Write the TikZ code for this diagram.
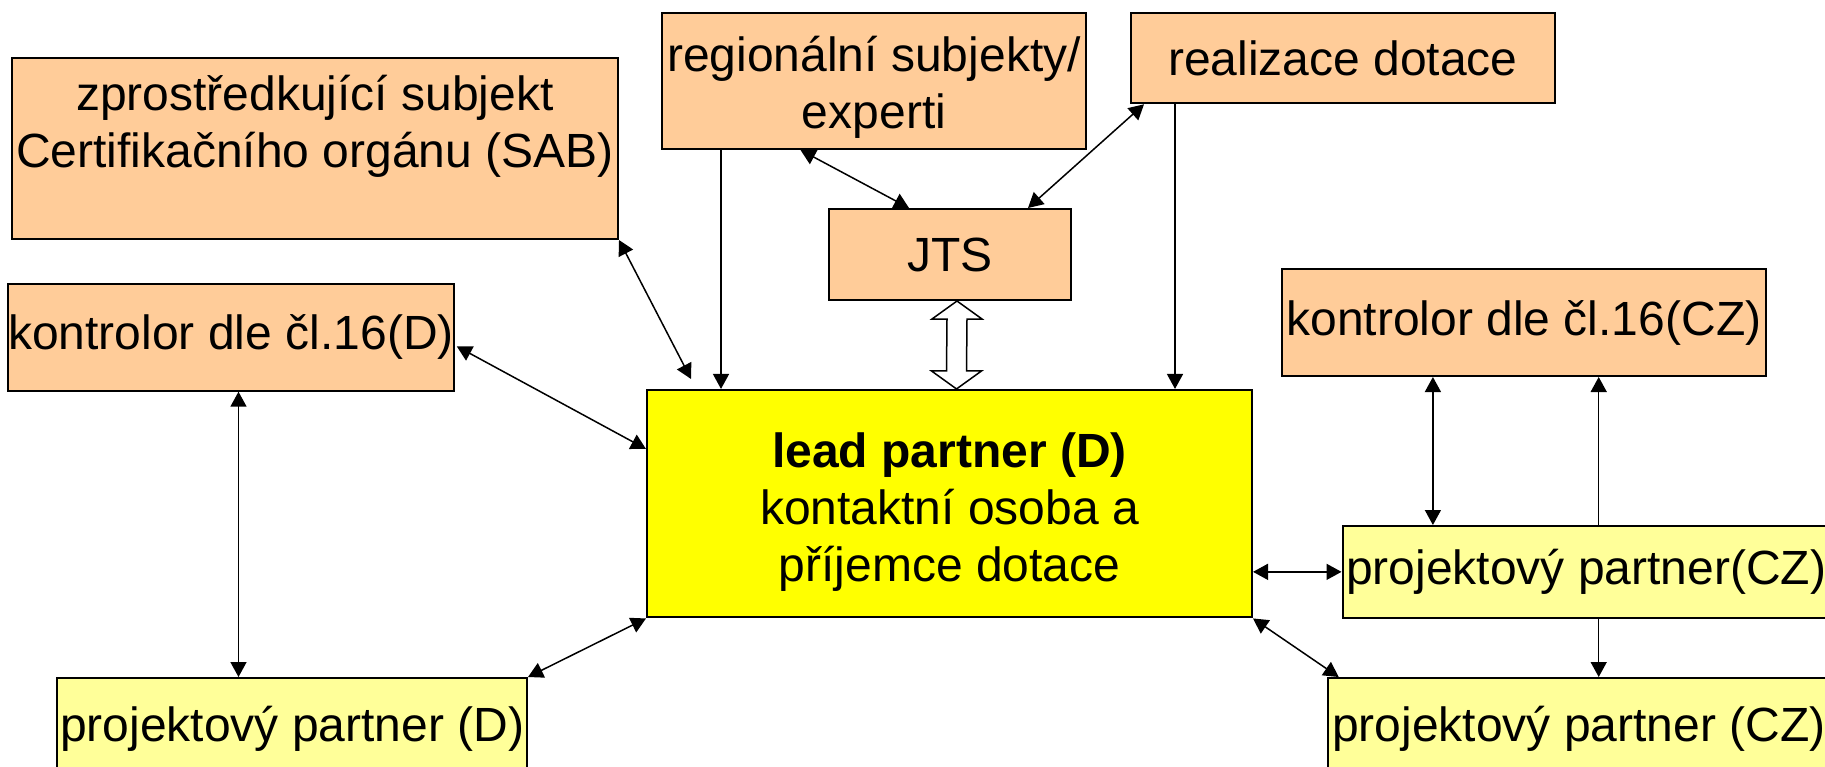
\documentclass[tikz,border=0pt]{standalone}
\usepackage{fontspec}
\setmainfont{Liberation Sans}
\usepackage{xcolor}
\usetikzlibrary{calc,arrows.meta,positioning}
\definecolor{peach}{HTML}{FFCC99}
\definecolor{paleyellow}{HTML}{FFFF99}
\definecolor{leadyellow}{HTML}{FFFF00}

\begin{document}
\begin{tikzpicture}
            [x=0.5pt,y=-0.5pt,
             box/.style ={draw,line width=1pt,inner sep=0pt,align=center,font=\fontsize{24}{28.5}\selectfont},
             link/.style ={line width=0.75pt},
             hollow/.style ={draw,fill=white,line width=0.75pt},
             >={Triangle[length=7.5pt,width=8pt]}]
            \useasboundingbox (0,0) rectangle (1825,766);
            \clip (0,0) rectangle (1825,766);
            \node[box][fill=peach,minimum width=303pt,minimum height=90.5pt] (sab) at (315,148.5){zprostředkující subjekt\\Certifikačního orgánu (SAB)\\[-10pt]\strut};
            \node[box][fill=peach,minimum width=212pt,minimum height=68pt] (reg) at (874,81){\rule{0pt}{23.5pt}regionální subjekty/\\experti};
            \node[box][fill=peach,minimum width=212pt,minimum height=45.3pt] (real) at (1343,58){realizace dotace};
            \node[box][fill=peach,minimum width=121pt,minimum height=45.5pt] (jts) at (950,254.5){JTS};
            \node[box][fill=peach,minimum width=219.5pt,minimum height=53.4pt] (kd) at (231,337.3){kontrolor dle čl.16(D)};
            \node[box][fill=peach,minimum width=242pt,minimum height=53.5pt] (kcz) at (1524,322.5){kontrolor dle čl.16(CZ)};
            \node[box][fill=leadyellow,minimum width=302.5pt,minimum height=113.75pt] (lead) at (949.5,503.7){\rule{0pt}{26pt}\textbf{lead partner (D)}\\kontaktní osoba a\\příjemce dotace};
            \node[box][fill=paleyellow,minimum width=243.75pt,minimum height=45.85pt] (pcz1) at (1586.25,571.85){projektový partner(CZ)};
            \node[box][fill=paleyellow,minimum width=251.15pt,minimum height=51pt] (pcz2) at (1578.85,729){projektový partner (CZ)};
            \node[box][fill=paleyellow,minimum width=234.8pt,minimum height=51pt] (pd) at (292.2,729){projektový partner (D)};
            \coordinate (kdx) at ($(kd.south)+(7.5,0)$);
            \coordinate (czx) at ($(pcz1.north west)+(91.4,0)$);
            \coordinate (czy) at ($(pcz1.north west)+(257.2,0)$);
            \coordinate (regx) at ($(reg.south west)+(60,0)$);
            \coordinate (realx) at ($(real.south west)+(45,0)$);
            \path[link,<->] (sab.south east) edge ($(lead.north west)+(45,-10)$)
                ($(reg.south west)+(139.5,0)$) edge ($(jts.north west)+(81,0)$)
                ($(real.south west)+(14,0)$) edge ($(jts.north east)+(-44,0)$)
                ($(kd.east)+(2,9)$) edge ($(lead.north west)+(0,60)$)
                (kdx) edge (kdx |- pd.north)
                (pd.north east) edge (lead.south west)
                (lead.east |- pcz1.west) edge (pcz1.west)
                (lead.south east) edge ($(pcz2.north west)+(12,0)$)
                (czx) edge (czx |- kcz.south);
            \path[link,->] (regx) edge (regx |- lead.north)
                (realx) edge (realx |- lead.north)
                (czy) edge (czy |- kcz.south)
                (czy |- pcz1.south) edge (czy |- pcz2.north);
            % hollow double arrow JTS - lead partner
            \coordinate (dt) at ([xshift=3.5pt]jts.south);
            \coordinate (db) at ([xshift=3.5pt]lead.north);
            \draw[hollow] (dt) -- ++(25,18) -- ++(-15,0) -- ($(db)+(10,-18)$) -- ++(15,0) -- (db)
                -- ++(-25,-18) -- ++(15,0) -- ($(dt)+(-10,18)$) -- ++(-15,0) -- cycle;
        \end{tikzpicture}
\end{document}
